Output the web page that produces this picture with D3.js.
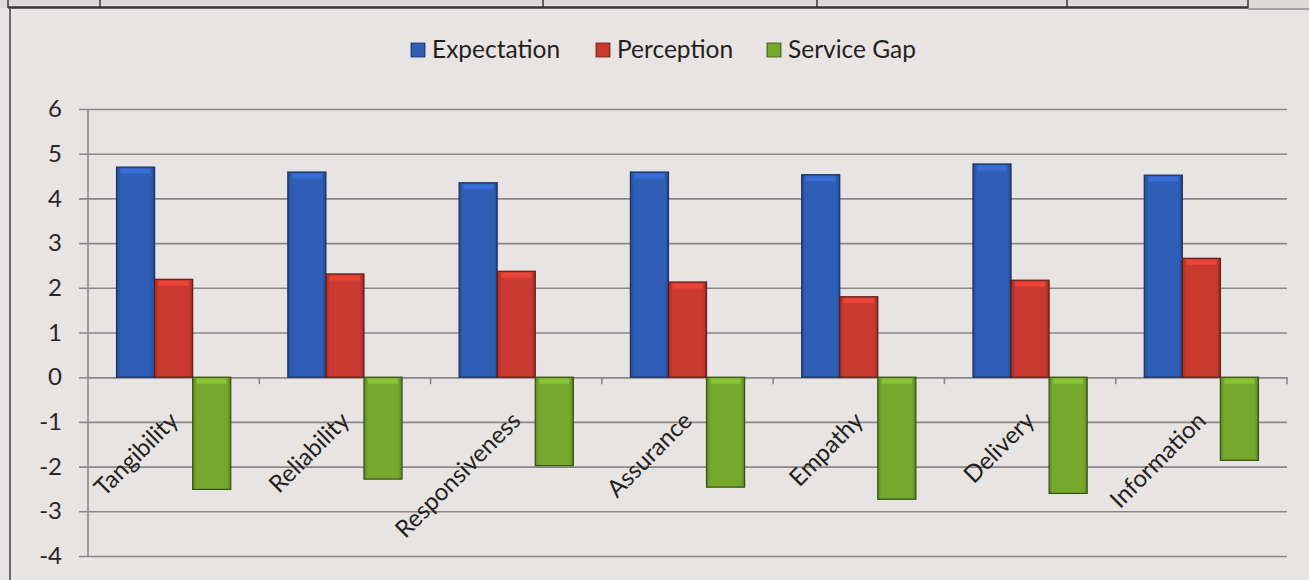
<!DOCTYPE html>
<html>
<head>
<meta charset="utf-8">
<script src="https://cdn.jsdelivr.net/npm/d3@7/dist/d3.min.js"></script>
<style>
  body { margin: 0; background: #e7e4e3; }
  svg { display: block; font-family: Lato, "Open Sans", sans-serif; }
</style>
</head>
<body>
<script>
var categories = ['Tangibility', 'Reliability', 'Responsiveness', 'Assurance', 'Empathy', 'Delivery', 'Information'];
var seriesNames = ['Expectation', 'Perception', 'Service Gap'];
var expectation = [4.70, 4.59, 4.35, 4.59, 4.53, 4.77, 4.52];
var perception = [2.19, 2.31, 2.37, 2.13, 1.80, 2.17, 2.66];
var serviceGap = [-2.51, -2.28, -1.98, -2.46, -2.73, -2.60, -1.86];
var yTicks = [-4, -3, -2, -1, 0, 1, 2, 3, 4, 5, 6];

var width = 1309, height = 580;
var colors = {'Expectation': '#2f5eb6', 'Perception': '#c8392f', 'Service Gap': '#76a82d'};
var strokes = {'Expectation': '#1a2f5c', 'Perception': '#5f1c15', 'Service Gap': '#354f14'};

var svg = d3.select('body').append('svg')
  .attr('width', width)
  .attr('height', height);

// table lines above the chart (part of the photographed page)
var tableTop = svg.append('g');
tableTop.append('rect').attr('x', 0).attr('y', 0).attr('width', 1309).attr('height', 8).attr('fill', '#dedad9');
tableTop.append('line').attr('x1', 8).attr('x2', 1248).attr('y1', 7.5).attr('y2', 7.5).attr('stroke', '#3a3438').attr('stroke-width', 2.5);
tableTop.append('line').attr('x1', 1248).attr('x2', 1309).attr('y1', 9).attr('y2', 9).attr('stroke', '#8e8a8c').attr('stroke-width', 1.5);
[8, 100, 543, 817, 1067, 1248].forEach(function (x) {
  tableTop.append('line').attr('x1', x).attr('x2', x).attr('y1', 0).attr('y2', 8).attr('stroke', '#3a3438').attr('stroke-width', 1.5);
});
// chart border left
svg.append('line').attr('x1', 10).attr('x2', 10).attr('y1', 9).attr('y2', 580).attr('stroke', '#6d686c').attr('stroke-width', 2);

var left = 88, right = 1287, yTop = 109, yBot = 556;

var y = d3.scaleLinear().domain([-4, 6]).range([yBot, yTop]);
var x0 = d3.scaleBand().domain(categories).range([left, right]).padding(0);
var x1 = d3.scaleBand().domain(seriesNames).range([0, x0.bandwidth()]).paddingInner(0).paddingOuter(0.75);

// gradients for the bevelled bars
var defs = svg.append('defs');
seriesNames.forEach(function (s, i) {
  var g = defs.append('linearGradient').attr('id', 'grad' + i).attr('x1', 0).attr('x2', 1).attr('y1', 0).attr('y2', 0);
  var c = d3.color(colors[s]);
  g.append('stop').attr('offset', '0%').attr('stop-color', c.darker(0.6));
  g.append('stop').attr('offset', '10%').attr('stop-color', c);
  g.append('stop').attr('offset', '90%').attr('stop-color', c);
  g.append('stop').attr('offset', '100%').attr('stop-color', c.darker(0.7));
});

// gridlines + y axis
var yAxis = d3.axisLeft(y)
  .tickValues(yTicks)
  .tickSizeInner(-(right - left) - 9)
  .tickSizeOuter(0)
  .tickPadding(17)
  .tickFormat(function (d) { return String(d); });
var gy = svg.append('g')
  .attr('transform', 'translate(' + (left - 9) + ',0)')
  .call(yAxis);
gy.select('.domain').remove();
gy.selectAll('.tick line').attr('stroke', '#8b8789').attr('stroke-width', 1.6);
gy.selectAll('.tick text')
  .attr('fill', '#2a2628')
  .attr('font-size', '24px')
  .attr('font-family', 'Lato, sans-serif');

// vertical axis line
svg.append('line')
  .attr('x1', left).attr('x2', left)
  .attr('y1', yTop).attr('y2', yBot)
  .attr('stroke', '#8b8789').attr('stroke-width', 1.6);

// category axis at zero
var xAxis = d3.axisBottom(x0).tickSize(0).tickFormat('');
var gx = svg.append('g').attr('transform', 'translate(0,' + y(0) + ')').call(xAxis);
gx.select('.domain').attr('stroke', '#8b8789').attr('stroke-width', 1.6);
var boundaries = categories.map(function (c) { return x0(c) + x0.bandwidth(); });
gx.selectAll('.cat-tick').data(boundaries).enter().append('line')
  .attr('x1', function (d) { return d; }).attr('x2', function (d) { return d; })
  .attr('y1', 0).attr('y2', 7)
  .attr('stroke', '#8b8789').attr('stroke-width', 1.6);

// bars
var rows = categories.map(function (c, i) {
  return {cat: c, values: [
    {name: 'Expectation', v: expectation[i]},
    {name: 'Perception', v: perception[i]},
    {name: 'Service Gap', v: serviceGap[i]}
  ]};
});

var groups = svg.selectAll('.grp').data(rows).enter().append('g')
  .attr('class', 'grp')
  .attr('transform', function (d) { return 'translate(' + x0(d.cat) + ',0)'; });

groups.selectAll('rect').data(function (d) { return d.values; }).enter().append('rect')
  .attr('x', function (d) { return x1(d.name); })
  .attr('width', x1.bandwidth())
  .attr('y', function (d) { return y(Math.max(0, d.v)); })
  .attr('height', function (d) { return Math.abs(y(d.v) - y(0)); })
  .attr('fill', function (d) { return 'url(#grad' + seriesNames.indexOf(d.name) + ')'; })
  .attr('stroke', function (d) { return strokes[d.name]; })
  .attr('stroke-width', 1.2);

// light bevel strip at bar tops
groups.selectAll('.bevel').data(function (d) { return d.values; }).enter().append('rect')
  .attr('class', 'bevel')
  .attr('x', function (d) { return x1(d.name) + 4; })
  .attr('width', x1.bandwidth() - 8)
  .attr('y', function (d) { return y(Math.max(0, d.v)) + 1.5; })
  .attr('height', 5)
  .attr('fill', function (d) { return d3.color(colors[d.name]).brighter(0.6); })
  .attr('opacity', 0.7);

// category labels, rotated
svg.selectAll('.cat-label').data(categories).enter().append('text')
  .attr('class', 'cat-label')
  .attr('text-anchor', 'end')
  .attr('font-size', '24px')
  .attr('fill', '#231f21')
  .attr('transform', function (d) {
    var cx = x0(d) + x0.bandwidth() / 2 + 6;
    return 'translate(' + cx + ',' + (y(0) + 45) + ')rotate(-45)';
  })
  .text(function (d) { return d; });

// legend
var legendX = [411, 596, 767];
var legend = svg.selectAll('.leg').data(seriesNames).enter().append('g')
  .attr('class', 'leg')
  .attr('transform', function (d, i) { return 'translate(' + legendX[i] + ',43)'; });
legend.append('rect')
  .attr('width', 14).attr('height', 14)
  .attr('fill', function (d, i) { return 'url(#grad' + i + ')'; })
  .attr('stroke', function (d) { return strokes[d]; })
  .attr('stroke-width', 0.8);
legend.append('text')
  .attr('x', 21).attr('y', 15)
  .attr('font-size', '24.5px')
  .attr('fill', '#231f21')
  .text(function (d) { return d; });
</script>
</body>
</html>
